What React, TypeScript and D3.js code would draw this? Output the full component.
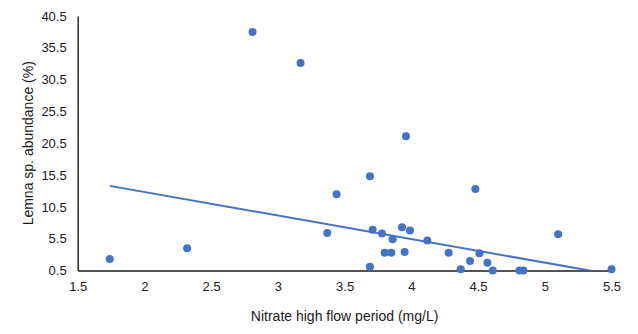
import { useEffect, useRef } from "react";
import * as d3 from "d3";

// nitrate (mg/L) vs Lemna sp. abundance (%)
const nitrate = [
  1.74, 2.32, 2.81, 3.17, 3.37, 3.44, 3.69, 3.69, 3.71, 3.78, 3.8, 3.85, 3.86, 3.93, 3.95,
  3.96, 3.99, 4.12, 4.28, 4.37, 4.44, 4.48, 4.51, 4.57, 4.61, 4.81, 4.84, 5.1, 5.5,
];
const abundance = [
  2.3, 4.0, 38.0, 33.1, 6.4, 12.5, 15.3, 1.1, 6.9, 6.3, 3.3, 3.3, 5.4, 7.3, 3.4,
  21.6, 6.8, 5.2, 3.3, 0.7, 2.0, 13.3, 3.2, 1.7, 0.5, 0.5, 0.5, 6.2, 0.7,
];
const xTicks = [1.5, 2, 2.5, 3, 3.5, 4, 4.5, 5, 5.5];
const yTicks = [0.5, 5.5, 10.5, 15.5, 20.5, 25.5, 30.5, 35.5, 40.5];
// linear trendline as shown on the chart
const trendSlope = -3.7;
const trendIntercept = 20.24;

export default function App() {
  const svgRef = useRef<SVGSVGElement>(null);
  const width = 638,
    height = 334,
    margin = { left: 77.7, top: 16, right: 26.5, bottom: 63.5 };

  useEffect(() => {
    const svg = d3.select(svgRef.current);
    svg.selectAll("*").remove();
    const innerW = width - margin.left - margin.right,
      innerH = height - margin.top - margin.bottom;
    const xScale = d3.scaleLinear().domain([1.5, 5.5]).range([0, innerW]);
    const yScale = d3.scaleLinear().domain([0.5, 40.5]).range([innerH, 0]);
    const main = svg.append("g").attr("transform", `translate(${margin.left}, ${margin.top})`);

    svg.append("defs").append("clipPath").attr("id", "plotClip")
      .append("rect").attr("x", 0).attr("y", 0).attr("width", innerW).attr("height", innerH);

    const font = "'Liberation Sans', Arial, sans-serif";

    // axes
    const xAxis = main.append("g")
      .attr("transform", `translate(0, ${innerH})`)
      .call(d3.axisBottom(xScale).tickValues(xTicks).tickSize(0).tickPadding(11).tickFormat(d3.format("")));
    const yAxis = main.append("g")
      .call(d3.axisLeft(yScale).tickValues(yTicks).tickSize(0).tickPadding(11).tickFormat(d3.format(".1f")));
    [xAxis, yAxis].forEach(ax => {
      ax.select(".domain").attr("stroke", "#1a1a1a").attr("stroke-width", 1.4);
      ax.selectAll("text").attr("font-family", font).attr("font-size", 13).attr("fill", "#1a1a1a");
    });

    // trendline
    const xs = d3.extent(nitrate) as [number, number];
    const line = d3.line<number>()
      .x(d => xScale(d))
      .y(d => yScale(trendSlope * d + trendIntercept));
    main.append("g").attr("clip-path", "url(#plotClip)")
      .append("path")
      .datum(xs)
      .attr("fill", "none")
      .attr("stroke", "#4472C4")
      .attr("stroke-width", 2)
      .attr("d", line);

    // points
    main.append("g")
      .selectAll("circle")
      .data(nitrate.map((x, i) => ({ x, y: abundance[i] })))
      .join("circle")
      .attr("cx", d => xScale(d.x))
      .attr("cy", d => yScale(d.y))
      .attr("r", 4)
      .attr("fill", "#4472C4");

    // titles
    svg.append("text")
      .attr("x", margin.left + innerW / 2)
      .attr("y", 320.5)
      .attr("text-anchor", "middle")
      .attr("font-family", font)
      .attr("font-size", 14)
      .attr("fill", "#1a1a1a")
      .text("Nitrate high flow period (mg/L)");
    svg.append("text")
      .attr("transform", `translate(33, ${margin.top + innerH / 2}) rotate(-90)`)
      .attr("text-anchor", "middle")
      .attr("font-family", font)
      .attr("font-size", 14)
      .attr("fill", "#1a1a1a")
      .text("Lemna sp. abundance (%)");
  }, []);

  return (
    <svg
      ref={svgRef}
      width={width}
      height={height}
      style={{ position: "absolute", left: 0, top: 0, background: "#fff" }}
    />
  );
}
